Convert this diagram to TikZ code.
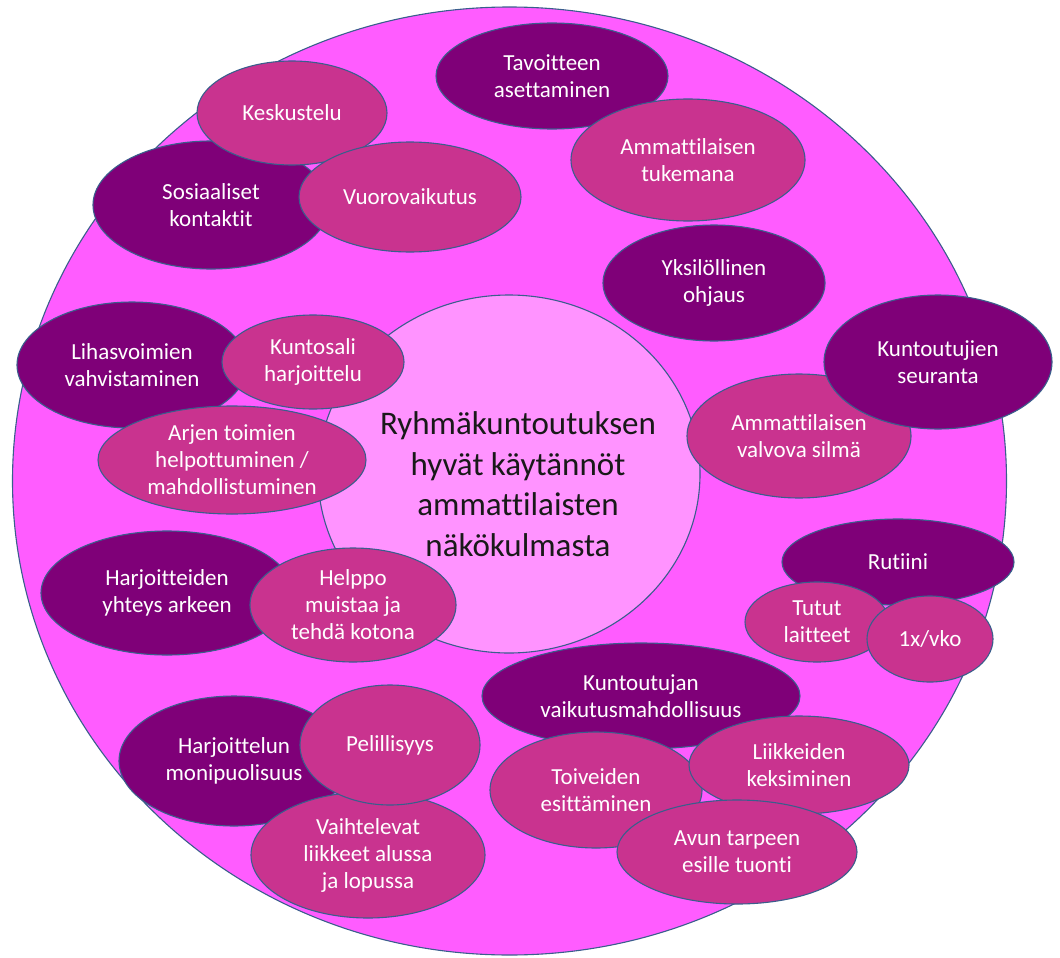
\documentclass[tikz,border=0pt]{standalone}
\usepackage{fontspec}
\setmainfont{Carlito}[Ligatures=NoCommon]
\usetikzlibrary{shapes.geometric}
\definecolor{outerpink}{HTML}{FF5CFF}
\definecolor{innerpink}{HTML}{FF93FF}
\definecolor{darkpurple}{HTML}{7F0078}
\definecolor{midpink}{HTML}{C9338F}
\definecolor{edgeblue}{HTML}{3A5E8C}
\tikzset{
  blob/.style={ellipse, draw=edgeblue, line width=1.1pt, inner sep=0pt, text=white,
    align=center, font=\fontsize{23}{27}\selectfont},
  darkblob/.style={blob, fill=darkpurple},
  midblob/.style={blob, fill=midpink},
  sz/.style n args={2}{minimum width=#1pt, minimum height=#2pt},
}
\begin{document}
\begin{tikzpicture}[x=1pt,y=-1pt]
\useasboundingbox (0,0) rectangle (1060,958);
\node[ellipse, draw=edgeblue, line width=1.1pt, fill=outerpink, sz={994}{948}] (outer) at (509.5,481) {};
\node[ellipse, draw=edgeblue, line width=1.1pt, fill=innerpink, sz={382}{358}] (inner) at (509,474) {};
\node[align=center, font=\fontsize{33}{40.5}\selectfont, text=black!90] (title) at (518,484)
  {Ryhmäkuntoutuksen\\hyvät käytännöt\\ammattilaisten\\näkökulmasta};
% top
\node[darkblob, sz={232}{106}] (tav) at (552,76) {Tavoitteen\\asettaminen};
\node[midblob, sz={234}{122}] (tuk) at (688,160) {Ammattilaisen\\tukemana};
\node[darkblob, sz={236}{128}] (sos) at (211,205) {Sosiaaliset\\kontaktit};
\node[midblob, sz={190}{104}] (kes) at (292,113) {Keskustelu};
\node[midblob, sz={222}{110}] (vuo) at (410,197) {Vuorovaikutus};
\node[darkblob, sz={222}{116}] (yks) at (714,283) {Yksilöllinen\\ohjaus};
% right
\node[midblob, sz={224}{124}] (val) at (799,436) {Ammattilaisen\\valvova silmä};
\node[darkblob, sz={228}{134}] (seu) at (938,362) {Kuntoutujien\\seuranta};
\node[darkblob, sz={232}{86}] (rut) at (898,562) {Rutiini};
\node[midblob, sz={144}{80}] (tut) at (817,622) {Tutut\\laitteet};
\node[midblob, sz={126}{86}] (vko) at (930,639) {1x/vko};
% left
\node[darkblob, sz={230}{126}] (lih) at (132,365) {Lihasvoimien\\vahvistaminen};
\node[midblob, sz={182}{94}] (kun) at (313,362) {Kuntosali\\harjoittelu};
\node[midblob, sz={268}{108}] (arj) at (232,460) {Arjen toimien\\helpottuminen /\\mahdollistuminen};
\node[darkblob, sz={252}{124}] (hya) at (167,593) {Harjoitteiden\\yhteys arkeen};
\node[midblob, sz={206}{114}] (hel) at (353,605) {Helppo\\muistaa ja\\tehdä kotona};
% bottom left
\node[darkblob, sz={230}{130}] (mon) at (234,761) {Harjoittelun\\monipuolisuus};
\node[midblob, sz={234}{126}] (vai) at (368,855) {Vaihtelevat\\liikkeet alussa\\ja lopussa};
\node[midblob, sz={180}{120}] (pel) at (390,745) {Pelillisyys};
% bottom right
\node[darkblob, sz={318}{106}] (vaik) at (641,696) {Kuntoutujan\\vaikutusmahdollisuus};
\node[midblob, sz={212}{116}] (toi) at (596,790) {Toiveiden\\esittäminen};
\node[midblob, sz={220}{98}] (lii) at (799,765) {Liikkeiden\\keksiminen};
\node[midblob, sz={240}{104}] (avu) at (737,852) {Avun tarpeen\\esille tuonti};
\end{tikzpicture}
\end{document}
